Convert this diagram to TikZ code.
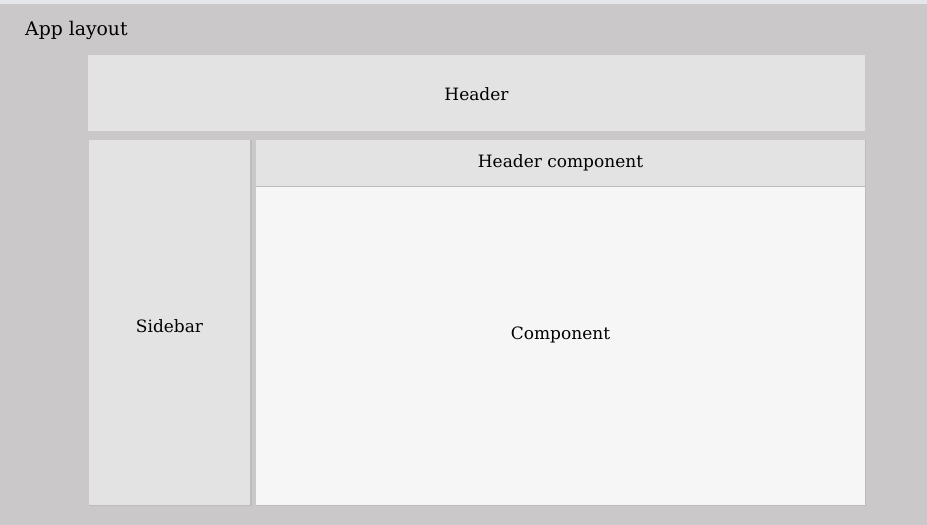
\documentclass[tikz,border=0pt]{standalone}
\usepackage{fontspec}
\setmainfont{DejaVu Serif}
\definecolor{pagebg}{HTML}{CAC8C8}
\definecolor{topstrip}{HTML}{E4E6EA}
\definecolor{panel}{HTML}{E3E3E3}
\definecolor{content}{HTML}{F6F6F6}
\definecolor{edge}{HTML}{BDBBBB}
\begin{document}
\begin{tikzpicture}[x=1pt,y=-1pt,
  region/.style={draw=none, inner sep=0pt, text=black, font=\fontsize{17}{19}\selectfont},
  label/.style={inner sep=0pt, anchor=base west, text=black, font=\fontsize{18.8}{20}\selectfont}]
  \useasboundingbox (0,0) rectangle (927,525);
  \fill[pagebg] (0,0) rectangle (927,525);
  \fill[topstrip] (0,0) rectangle (927,3.5);
  \node[label] (title) at (25,35) {App layout};
  % header bar
  \fill[panel] (88,55) rectangle (865,131);
  \node[region] (header) at (476.5,94) {Header};
  % sidebar with a soft right edge
  \fill[edge] (89,140) rectangle (252,505.5);
  \fill[panel] (89,140) rectangle (250,505);
  \node[region] (sidebar) at (169.5,326) {Sidebar};
  % header component strip
  \fill[panel] (256,140) rectangle (865,186.5);
  \draw[edge, line width=1] (256,186.5) -- (865.5,186.5);
  \draw[edge, line width=1] (865.5,140) -- (865.5,186.5);
  \node[region] (hcomp) at (560.5,162.5) {Header component};
  % main component area
  \fill[content] (256,187) rectangle (865,505);
  \draw[edge, line width=1] (865.5,187) -- (865.5,505.5) -- (256,505.5);
  \node[region] (comp) at (560.5,334.5) {Component};
\end{tikzpicture}
\end{document}
